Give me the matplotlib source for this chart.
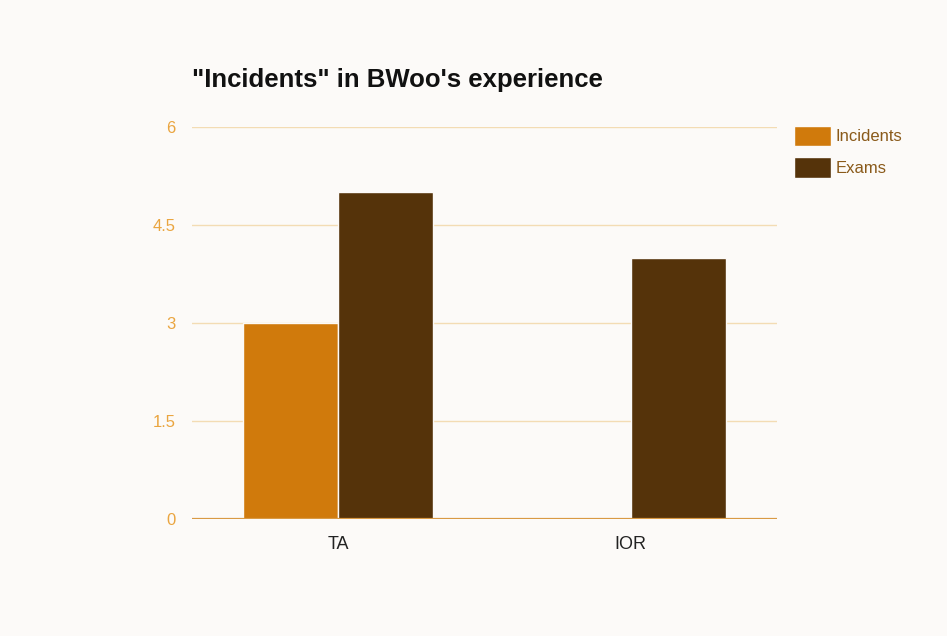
import numpy as np
import matplotlib.pyplot as plt
from matplotlib.ticker import FixedLocator

categories = ['TA', 'IOR']
incidents = [3, 0]
exams = [5, 4]
yticks = [0, 1.5, 3, 4.5, 6]
ytick_labels = ['0', '1.5', '3', '4.5', '6']

plt.rcParams['font.family'] = ['Liberation Sans', 'DejaVu Sans']

bg = '#fcfaf8'
fig = plt.figure(figsize=(9.47, 6.36), dpi=100, facecolor=bg)
ax = fig.add_axes([0.2027, 0.184, 0.6178, 0.6164], facecolor=bg)

x = np.arange(len(categories))
w = 0.325
ax.bar(x - w / 2, incidents, width=w, color='#d07a0c', edgecolor=bg, linewidth=1, label='Incidents', zorder=3)
ax.bar(x + w / 2, exams, width=w, color='#55330a', edgecolor=bg, linewidth=1, label='Exams', zorder=3)

ax.set_xlim(-0.5, 1.5)
ax.set_ylim(0, 6)
ax.yaxis.set_major_locator(FixedLocator(yticks))
ax.set_yticklabels(ytick_labels)
ax.set_xticks(x)
ax.set_xticklabels(categories)

ax.grid(axis='y', color='#f3dcb4', linewidth=1, zorder=0)
ax.axhline(0, color='#d99a45', linewidth=1.6, zorder=4)
for s in ax.spines.values():
    s.set_visible(False)

ax.tick_params(axis='y', length=0, pad=12, labelsize=12, labelcolor='#eaa540')
ax.tick_params(axis='x', length=0, pad=12, labelsize=13, labelcolor='#222222')

ax.set_title('"Incidents" in BWoo\'s experience', loc='left', fontsize=18.5,
             fontweight='bold', color='#111111', pad=29)

leg = ax.legend(loc='upper left', bbox_to_anchor=(1.018, 1.02), frameon=False,
                fontsize=12, handlelength=2.2, handleheight=1.5,
                handletextpad=0.3, labelspacing=0.68, borderaxespad=0)
for t in leg.get_texts():
    t.set_color('#8a5a1a')

fig.savefig('out.png', dpi=100, facecolor=bg)
